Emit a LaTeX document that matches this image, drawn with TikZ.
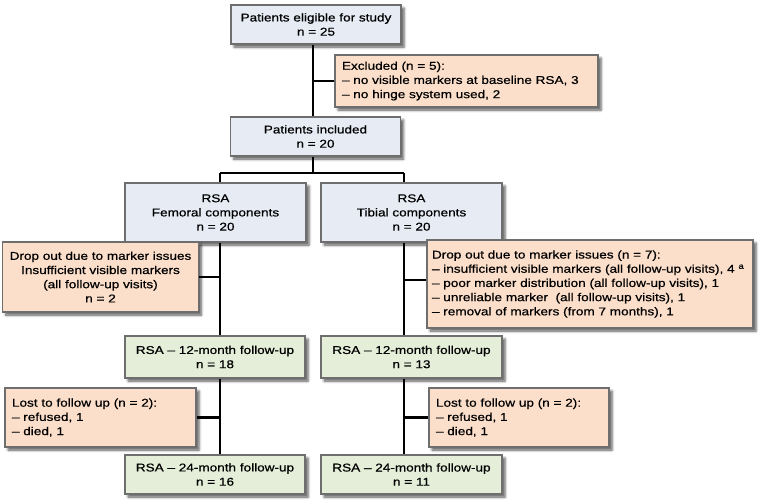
\documentclass[tikz,border=0pt]{standalone}
\usepackage{fontspec}
\setmainfont{Liberation Sans}[FakeStretch=1.2,FakeBold=0.6]
\usetikzlibrary{shadows.blur}
\definecolor{bluec}{HTML}{E6EBF4}
\definecolor{salmc}{HTML}{FCDFCB}
\definecolor{grnc}{HTML}{E4EED8}
\definecolor{bordc}{HTML}{6E6E6E}
\begin{document}
\begin{tikzpicture}[x=1pt,y=-1pt,
  every node/.style={font=\fontsize{11.3}{14.2}\selectfont},
  box/.style={draw=bordc, line width=1.1pt, inner xsep=7pt, inner ysep=0pt,
    blur shadow={shadow xshift=3pt, shadow yshift=-3pt, shadow blur radius=2.5pt, shadow opacity=65}},
  bluebox/.style={box, fill=bluec, align=center},
  grnbox/.style={box, fill=grnc, align=center},
  salmbox/.style={box, fill=salmc},
  link/.style={line width=2.5pt}]
\useasboundingbox (0,0) rectangle (763,499);
% nodes
\node[bluebox, minimum width=170pt, minimum height=39pt] (elig) at (316,24.5)
  {Patients eligible for study\\n = 25};
\node[salmbox, minimum height=52pt, text width=249pt, align=left] (excl) at (466.5,81)
  {Excluded (n = 5):\\– no visible markers at baseline RSA, 3\\– no hinge system used, 2};
\node[bluebox, minimum width=170pt, minimum height=39pt] (incl) at (315.5,136.5)
  {Patients included\\n = 20};
\node[bluebox, minimum width=181pt, minimum height=59pt] (fem) at (215.5,212.5)
  {RSA\\Femoral components\\n = 20};
\node[bluebox, minimum width=181pt, minimum height=59pt] (tib) at (411.5,212.5)
  {RSA\\Tibial components\\n = 20};
\node[salmbox, minimum width=191pt, minimum height=70pt, align=center] (dropL) at (100.5,277)
  {Drop out due to marker issues\\Insufficient visible markers\\(all follow-up visits)\\n = 2};
\node[salmbox, inner xsep=5pt, minimum height=88pt, text width=316pt, align=left] (dropR) at (590,284)
  {Drop out due to marker issues (n = 7):\\
   – insufficient visible markers (all follow-up visits), 4~\textsuperscript{a}\\
   – poor marker distribution (all follow-up visits), 1\\
   – unreliable marker\ \ (all follow-up visits), 1\\
   – removal of markers (from 7 months), 1};
\node[grnbox, minimum width=180pt, minimum height=42pt] (m12L) at (215,357)
  {RSA – 12-month follow-up\\n = 18};
\node[grnbox, minimum width=181pt, minimum height=42pt] (m12R) at (411.5,357)
  {RSA – 12-month follow-up\\n = 13};
\node[salmbox, minimum height=59pt, text width=177pt, align=left] (lostL) at (100.5,417.5)
  {Lost to follow up (n = 2):\\– refused, 1\\– died, 1};
\node[salmbox, minimum height=59pt, text width=166pt, align=left] (lostR) at (519,417.5)
  {Lost to follow up (n = 2):\\– refused, 1\\– died, 1};
\node[grnbox, minimum width=180pt, minimum height=39pt] (m24L) at (215,474.5)
  {RSA – 24-month follow-up\\n = 16};
\node[grnbox, minimum width=181pt, minimum height=39pt] (m24R) at (411.5,474.5)
  {RSA – 24-month follow-up\\n = 11};
% trunk coordinates
\coordinate (tA) at ([xshift=-3pt]elig.south);
\coordinate (tB) at (tA |- incl.south);
\coordinate (split) at (313,173);
\coordinate (fA) at ([xshift=4.5pt]fem.south);
\coordinate (rA) at ([xshift=-7.5pt]tib.south);
% connectors
\draw[link] (tA) -- (tA |- incl.north);
\draw[link] (excl.west) -- (excl.west -| tA);
\draw[link] (tB) -- (split);
\draw[link] (fA |- split) -- (rA |- split);
\draw[link] (fA |- split) -- (fA |- fem.north);
\draw[link] (rA |- split) -- (rA |- tib.north);
\draw[link] (fA) -- (fA |- m12L.north);
\draw[link] (dropL.east) -- (dropL.east -| fA);
\draw[link] (rA) -- (rA |- m12R.north);
\draw[link] ([yshift=4pt]dropR.west) -- ([yshift=4pt]dropR.west -| rA);
\draw[link] (fA |- m12L.south) -- (fA |- m24L.north);
\draw[link] (lostL.east) -- (lostL.east -| fA);
\draw[link] (rA |- m12R.south) -- (rA |- m24R.north);
\draw[link] (lostR.west) -- (lostR.west -| rA);
\end{tikzpicture}
\end{document}
